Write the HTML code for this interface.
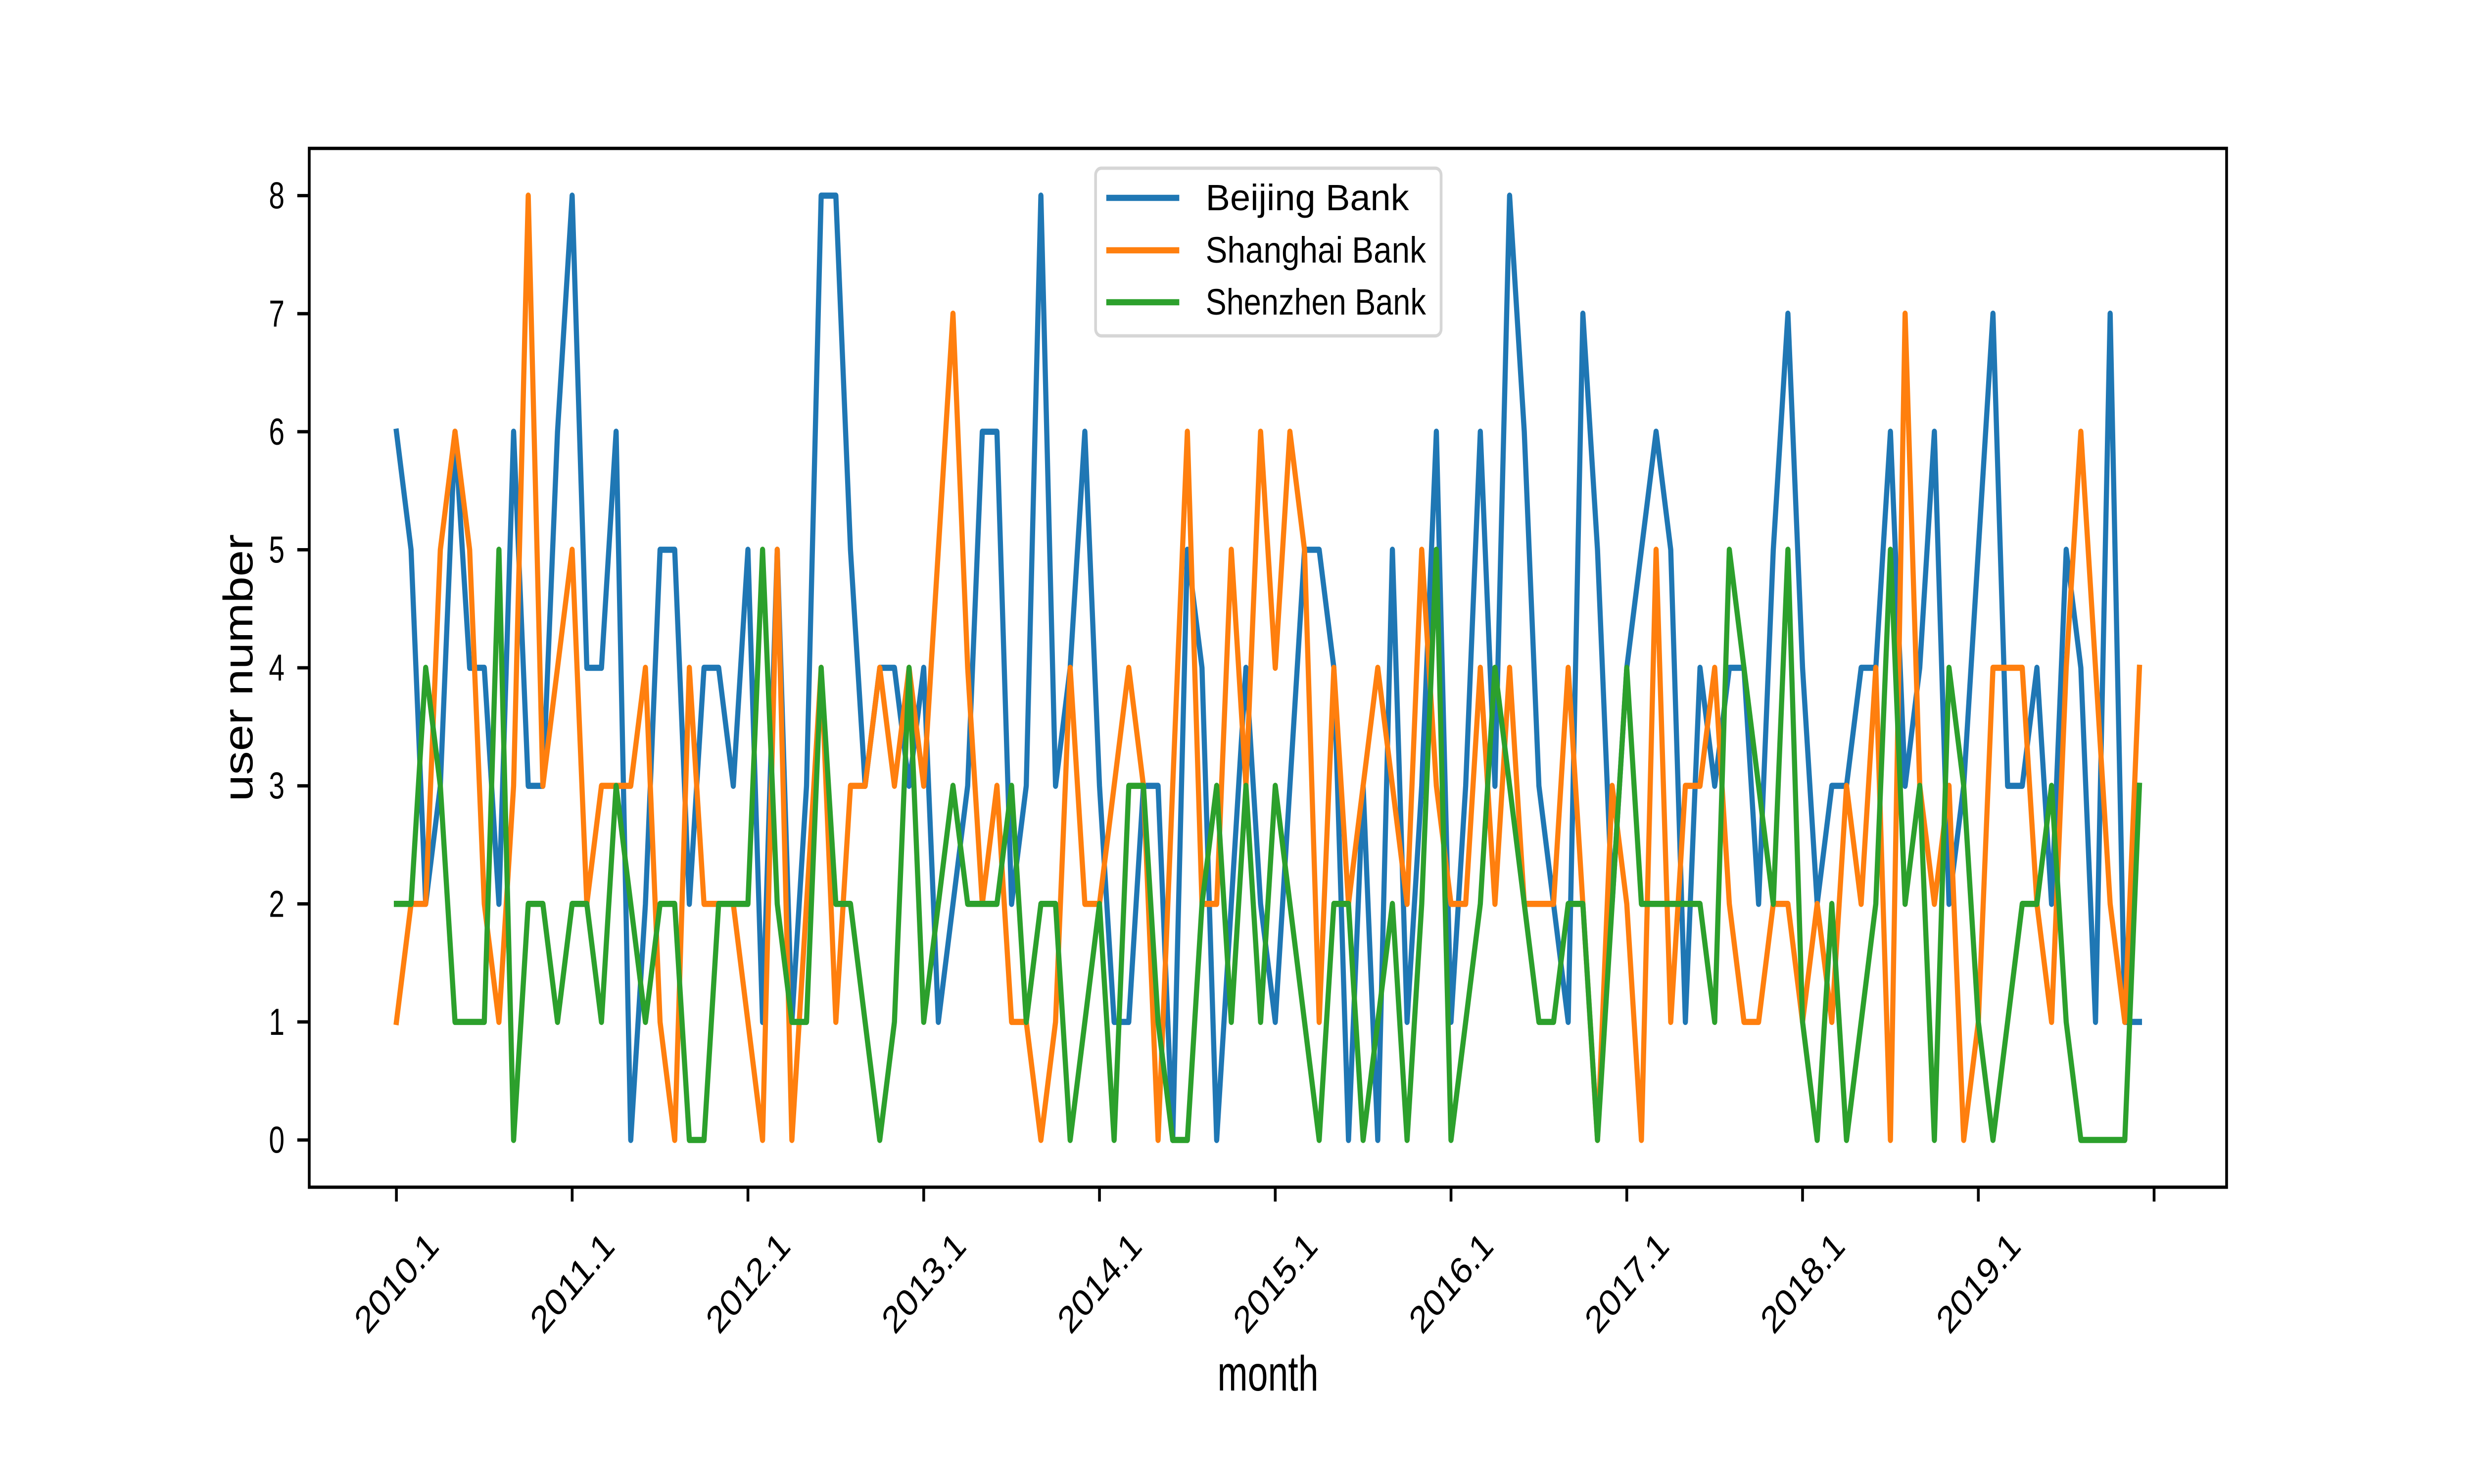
<!DOCTYPE html>
<html><head><meta charset="utf-8"><style>
html,body{margin:0;padding:0;background:#fff;overflow:hidden;width:100%;height:100%;}
svg{display:block;width:100vw;height:100vh;}
text{font-family:"Liberation Sans","Noto Sans CJK SC",sans-serif;fill:#000;}
</style></head><body>
<svg id="chart" xmlns="http://www.w3.org/2000/svg" viewBox="0 0 6000 3000" preserveAspectRatio="none">
<rect x="0" y="0" width="6000" height="3000" fill="#fff"/>
<g id="plot"></g>
</svg>
<script>
const beijing = [6,5,2,3,6,4,4,2,6,3, 3,6,8,4,4,6,0,2,5,5, 2,4,4,3,5,1,5,1,3,8,
 8,5,3,4,4,3,4,1,2,3, 6,6,2,3,8,3,4,6,3,1, 1,3,3,0,5,4,0,2,4,2,
 1,3,5,5,4,0,3,0,5,1, 3,6,1,3,6,3,8,6,3,2, 1,7,5,2,4,5,6,5,1,4,
 3,4,4,2,5,7,4,2,3,3, 4,4,6,3,4,6,2,3,5,7, 3,3,4,2,5,4,1,7,1,1];
const shanghai = [1,2,2,5,6,5,2,1,3,8, 3,4,5,2,3,3,3,4,1,0, 4,2,2,2,1,0,5,0,2,4,
 1,3,3,4,3,4,3,5,7,4, 2,3,1,1,0,1,4,2,2,3, 4,3,0,3,6,2,2,5,3,6,
 4,6,5,1,4,2,3,4,3,2, 5,3,2,2,4,2,4,2,2,2, 4,2,0,3,2,0,5,1,3,3,
 4,2,1,1,2,2,1,2,1,3, 2,4,0,7,3,2,3,0,1,4, 4,4,2,1,4,6,4,2,1,4];
const shenzhen = [2,2,4,3,1,1,1,5,0,2, 2,1,2,2,1,3,2,1,2,2, 0,0,2,2,2,5,2,1,1,4,
 2,2,1,0,1,4,1,2,3,2, 2,2,3,1,2,2,0,1,2,0, 3,3,1,0,0,2,3,1,3,1,
 3,2,1,0,2,2,0,1,2,0, 2,5,0,1,2,4,3,2,1,1, 2,2,0,2,4,2,2,2,2,2,
 1,5,4,3,2,5,1,0,2,0, 1,2,5,2,3,0,4,3,1,0, 1,2,2,3,1,0,0,0,0,3];
const seriesNames = ["Beijing Bank","Shanghai Bank","Shenzhen Bank"];
const xTickIndex = [0,12,24,36,48,60,72,84,96,108,120];
const xTickLabels = ["2010.1","2011.1","2012.1","2013.1","2014.1","2015.1","2016.1","2017.1","2018.1","2019.1",""];
const yTicks = [0,1,2,3,4,5,6,7,8];

const NS="http://www.w3.org/2000/svg";
const L=750,R=5400,T=300,B=2400;
const n=beijing.length;
const xmin=-0.05*(n-1), xmax=(n-1)*1.05;
const xS=i=>L+(i-xmin)/(xmax-xmin)*(R-L);
const yS=v=>B-(v+0.4)/8.8*(B-T);
const plot=document.getElementById('plot');
function mk(tag,attrs,parent){const e=document.createElementNS(NS,tag);for(const k in attrs)e.setAttribute(k,attrs[k]);(parent||plot).appendChild(e);return e;}

const colors=["#1f77b4","#ff7f0e","#2ca02c"];
const data=[beijing,shanghai,shenzhen];
const slugs=["beijing","shanghai","shenzhen"];
data.forEach((arr,s)=>{
  const pts=arr.map((v,i)=>xS(i).toFixed(1)+","+yS(v).toFixed(1)).join(" ");
  const pl=mk('polyline',{points:pts,fill:"none",stroke:colors[s],"stroke-width":12.5,"stroke-linejoin":"round","stroke-linecap":"square"});
  
  
});

const fr=mk('rect',{x:L,y:T,width:R-L,height:B-T,fill:"none",stroke:"#000","stroke-width":6.7});



xTickIndex.forEach((idx,k)=>{
  const x=xS(idx);
  const t=mk('line',{x1:x,y1:B,x2:x,y2:B+29,stroke:"#000","stroke-width":6.7});
  
  
  const lab=xTickLabels[k];
  if(lab){
    const cy=2593;
    const tx=mk('text',{x:x,y:cy,"text-anchor":"middle","dominant-baseline":"central","font-size":76,textLength:lab.length*41.7,lengthAdjust:"spacingAndGlyphs",transform:`rotate(-45 ${x} ${cy})`});
    tx.textContent=lab;
    
    
  }
});
yTicks.forEach(v=>{
  const y=yS(v);
  const t=mk('line',{x1:L-29,y1:y,x2:L,y2:y,stroke:"#000","stroke-width":6.7});
  
  
  const tx=mk('text',{x:690,y:y,"text-anchor":"end","dominant-baseline":"central","font-size":76,textLength:String(v).length*38,lengthAdjust:"spacingAndGlyphs"});
  tx.textContent=String(v);
  
  
});

const xl=mk('text',{x:3075,y:2811,"text-anchor":"middle","font-size":100,textLength:245,lengthAdjust:"spacingAndGlyphs"});
xl.textContent="month";


const yl=mk('text',{x:612,y:1350,"text-anchor":"middle","font-size":100,textLength:540,lengthAdjust:"spacingAndGlyphs",transform:"rotate(-90 612 1350)"});
yl.textContent="user number";



const lg=mk('g',{});


mk('rect',{x:2657,y:340,width:838,height:339,rx:14,fill:"#fff","fill-opacity":0.8,stroke:"#d6d6d6","stroke-width":6.7},lg);
const rowsY=[400,506,611];
seriesNames.forEach((nm,s)=>{
  const ln=mk('line',{x1:2683,y1:rowsY[s],x2:2860,y2:rowsY[s],stroke:colors[s],"stroke-width":12.5},lg);
  
  
  const tx=mk('text',{x:2924,y:rowsY[s],"dominant-baseline":"central","font-size":74,textLength:nm.length*41.1,lengthAdjust:"spacingAndGlyphs"},lg);
  tx.textContent=nm;
  
  
});
</script>
</body></html>
